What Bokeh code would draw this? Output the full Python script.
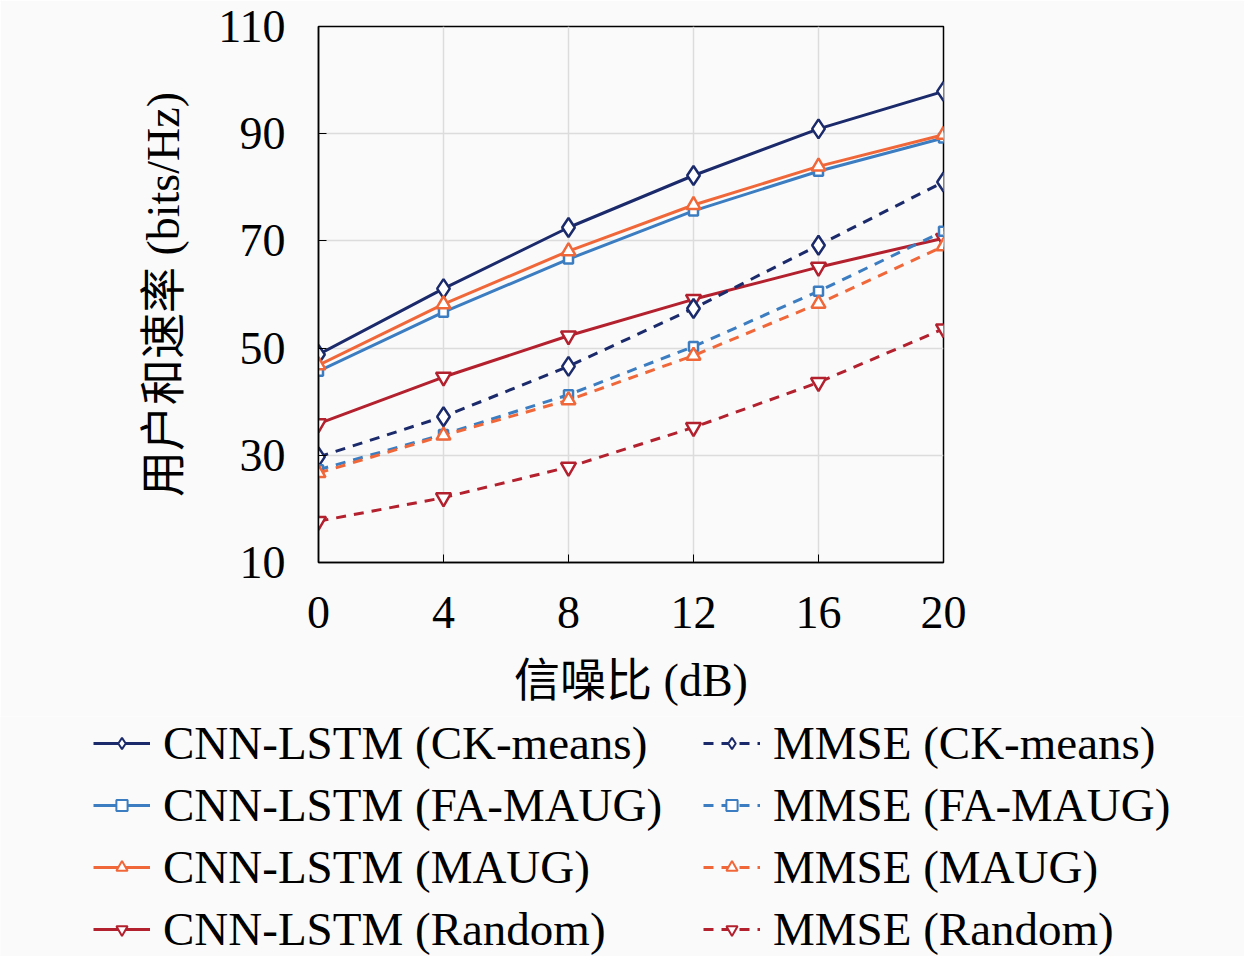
from bokeh.plotting import figure
from bokeh.layouts import column
from bokeh.models import Legend, LegendItem, FixedTicker, Range1d
from bokeh.embed import file_html
from bokeh.resources import INLINE

snr = [0, 4, 8, 12, 16, 20]

cnn_ckmeans = [48.8, 61.1, 72.5, 82.2, 90.9, 97.9]
cnn_famaug = [45.7, 56.7, 66.6, 75.6, 83.0, 89.2]
cnn_maug = [46.8, 58.2, 68.1, 76.7, 83.9, 89.8]
cnn_random = [35.9, 44.6, 52.3, 59.1, 65.1, 70.5]

mmse_ckmeans = [29.7, 37.2, 46.6, 57.4, 69.2, 81.0]
mmse_famaug = [27.3, 33.9, 41.3, 50.3, 60.6, 71.8]
mmse_maug = [26.7, 33.7, 40.3, 48.6, 58.3, 69.0]
mmse_random = [17.7, 22.1, 27.8, 35.2, 43.6, 53.6]

y_ticks = [10, 30, 50, 70, 90, 110]

SERIF = "Liberation Serif, Noto Sans CJK SC"
BG = "#fafafa"

p = figure(width=1244, height=716, output_backend="svg", toolbar_location=None,
           x_range=Range1d(0, 20), y_range=Range1d(10, 110),
           min_border_left=318, min_border_right=301,
           min_border_top=26, min_border_bottom=154)
p.background_fill_color = BG
p.border_fill_color = BG
p.outline_line_color = "black"
p.outline_line_width = 1.5

p.xaxis.ticker = FixedTicker(ticks=snr)
p.yaxis.ticker = FixedTicker(ticks=y_ticks)
p.xaxis.axis_label = "信噪比 (dB)"
p.yaxis.axis_label = "用户和速率 (bits/Hz)"
for ax in (p.xaxis, p.yaxis):
    ax.major_label_text_font = SERIF
    ax.major_label_text_font_size = "46px"
    ax.major_label_text_color = "black"
    ax.axis_label_text_font = SERIF
    ax.axis_label_text_font_size = "46px"
    ax.axis_label_text_font_style = "normal"
    ax.axis_label_text_color = "black"
    ax.major_tick_in = 8
    ax.major_tick_out = 0
    ax.minor_tick_in = 0
    ax.minor_tick_out = 0
    ax.axis_line_width = 1.5
    ax.major_tick_line_width = 1
p.xaxis.major_label_standoff = 34
p.xaxis.axis_label_standoff = 24
p.yaxis.major_label_standoff = 33
p.yaxis.axis_label_standoff = 26

p.grid.grid_line_color = "#dcdcdc"
p.grid.grid_line_width = 1.5

series = [
    ("CNN-LSTM (CK-means)", cnn_ckmeans, "#1b2a6b", "diamond", 19, "solid"),
    ("CNN-LSTM (FA-MAUG)", cnn_famaug, "#3b7dc0", "square", 9, "solid"),
    ("CNN-LSTM (MAUG)", cnn_maug, "#f0683a", "triangle", 14, "solid"),
    ("CNN-LSTM (Random)", cnn_random, "#b3202e", "inverted_triangle", 15, "solid"),
    ("MMSE (CK-means)", mmse_ckmeans, "#1b2a6b", "diamond", 19, "10 8"),
    ("MMSE (FA-MAUG)", mmse_famaug, "#3b7dc0", "square", 9, "10 8"),
    ("MMSE (MAUG)", mmse_maug, "#f0683a", "triangle", 14, "10 8"),
    ("MMSE (Random)", mmse_random, "#b3202e", "inverted_triangle", 15, "10 8"),
]

# legend strip under the chart, its own figure with a fixed full-width frame
lg = figure(frame_width=1244, frame_height=240, output_backend="svg",
            toolbar_location=None, x_range=Range1d(0, 1), y_range=Range1d(0, 1),
            min_border=0)
if "frame_align" in lg.properties():
    lg.frame_align = False
lg.axis.visible = False
lg.grid.visible = False
lg.outline_line_color = None
lg.background_fill_color = BG
lg.border_fill_color = BG

items = []
for name, ys, color, marker, size, dash in series:
    p.line(snr, ys, line_color=color, line_width=3, line_dash=dash)
    p.scatter(snr, ys, marker=marker, size=size, line_color=color,
              line_width=2.5, fill_color="white")
    # stand-ins for the legend, kept out of the strip's visible range
    ln = lg.line([-5, -4], [-5, -4], line_color=color, line_width=3, line_dash=dash)
    sc = lg.scatter([-5], [-5], marker=marker, size=size, line_color=color,
                    line_width=2, fill_color="white")
    items.append(LegendItem(label=name, renderers=[ln, sc]))

for k, xloc in enumerate([93, 703]):
    leg = Legend(items=items[4 * k:4 * k + 4], location=(xloc, 0))
    leg.orientation = "vertical"
    leg.label_text_font = SERIF
    leg.label_text_font_size = "47px"
    leg.label_text_color = "black"
    leg.label_height = 48
    leg.glyph_height = 28
    leg.glyph_width = 57
    leg.label_standoff = 13
    leg.spacing = 8
    leg.padding = 0
    leg.margin = 0
    leg.border_line_color = None
    leg.background_fill_alpha = 0
    lg.add_layout(leg, "center")

open("out.html", "w").write(file_html(column(p, lg, spacing=0), INLINE))
